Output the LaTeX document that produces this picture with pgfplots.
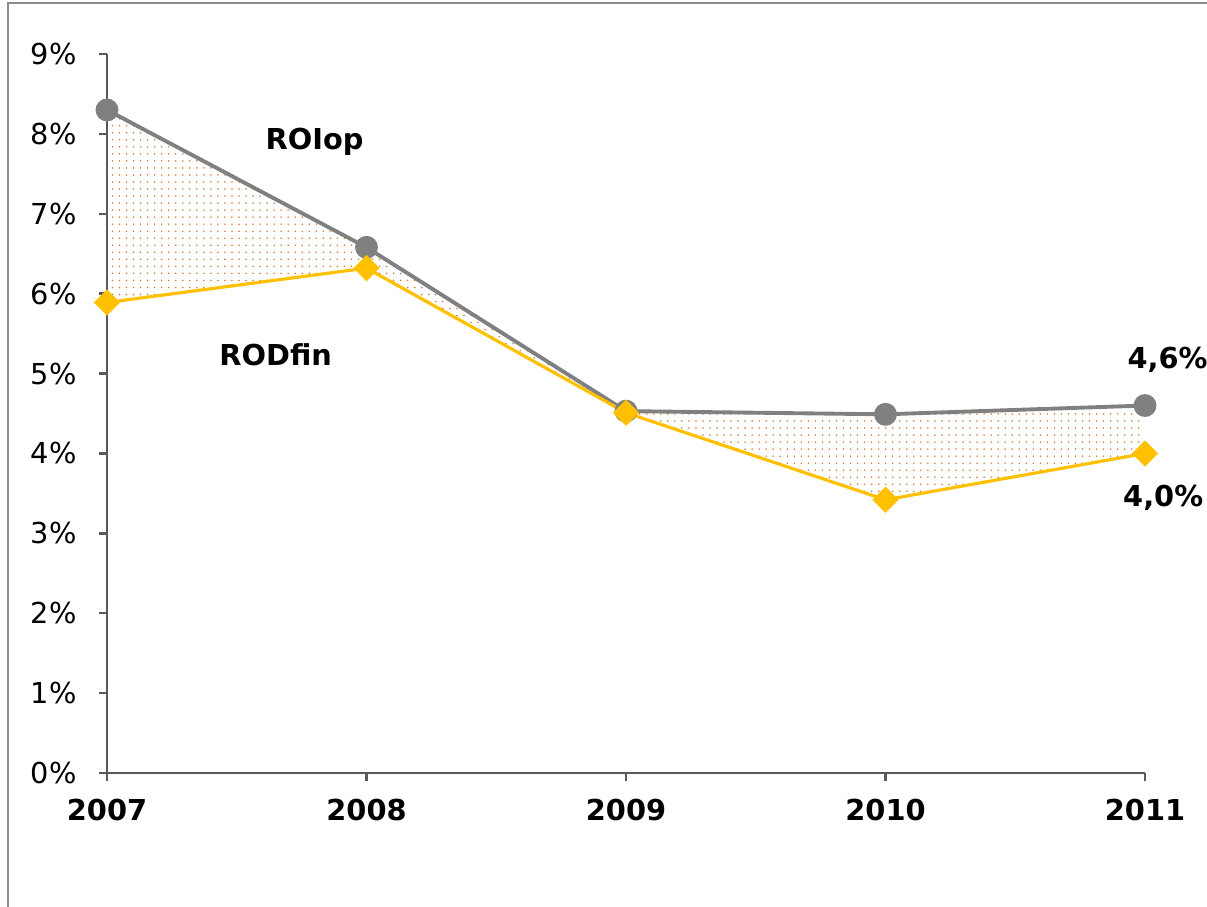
\documentclass[border=0pt]{standalone}
\usepackage{fontspec}
\setmainfont{DejaVu Sans}
\usepackage{pgfplots}
\pgfplotsset{compat=1.18}
\usepgfplotslibrary{fillbetween}
\usetikzlibrary{patterns}

\definecolor{roigray}{RGB}{128,128,128}
\definecolor{rodyellow}{RGB}{255,192,0}
\definecolor{dotorange}{RGB}{215,120,50}
\definecolor{framegray}{RGB}{140,140,140}
\definecolor{axisgray}{RGB}{90,90,90}

% fine dot raster for the spread between the two ratios
\pgfdeclarepatternformonly{finedots}{\pgfqpoint{-0.5pt}{-0.5pt}}{\pgfqpoint{2.5pt}{2.5pt}}{\pgfqpoint{2pt}{2pt}}{%
  \pgfpathcircle{\pgfqpoint{0pt}{0pt}}{0.25pt}\pgfusepath{fill}}

\begin{document}
\begin{tikzpicture}
\begin{axis}[
  at={(0,0)}, anchor=south west,
  scale only axis,
  width=10.38cm, height=7.19cm,
  xmin=2007, xmax=2011, ymin=0, ymax=9,
  axis lines*=left,
  axis line style={axisgray, line width=0.7pt, -},
  tick style={axisgray, line width=0.7pt},
  tick align=outside,
  major tick length=0.08cm,
  xtick={2007,2008,2009,2010,2011},
  xticklabels={\textbf{2007},\textbf{2008},\textbf{2009},\textbf{2010},\textbf{2011}},
  ytick={0,1,2,3,4,5,6,7,8,9},
  yticklabels={0\%,1\%,2\%,3\%,4\%,5\%,6\%,7\%,8\%,9\%},
  every tick label/.append style={font=\fontsize{8.2}{9.8}\selectfont, text=black},
  xticklabel style={yshift=-0.06cm},
  yticklabel style={xshift=-0.1cm},
  clip=false,
]
\addplot[name path=roi, draw=none, forget plot] coordinates {
  (2007,8.30) (2008,6.58) (2009,4.53) (2010,4.49) (2011,4.6)};
\addplot[name path=rod, draw=none, forget plot] coordinates {
  (2007,5.89) (2008,6.32) (2009,4.51) (2010,3.42) (2011,4.0)};
\addplot[pattern=finedots, pattern color=dotorange, draw=none]
  fill between[of=roi and rod];

% ROIop
\addplot[roigray, line width=1.1pt, mark=*, mark size=2.7pt,
  mark options={fill=roigray, draw=roigray}] coordinates {
  (2007,8.30) (2008,6.58) (2009,4.53) (2010,4.49) (2011,4.6)};
% RODfin
\addplot[rodyellow, line width=0.9pt, mark=diamond*, mark size=3.1pt,
  mark options={fill=rodyellow, draw=rodyellow, xscale=1.33}] coordinates {
  (2007,5.89) (2008,6.32) (2009,4.51) (2010,3.42) (2011,4.0)};

\node[font=\fontsize{8.2}{9.8}\selectfont\bfseries] at (axis cs:2007.80,7.90) {ROIop};
\node[font=\fontsize{8.2}{9.8}\selectfont\bfseries] at (axis cs:2007.65,5.23) {RODfin};
\node[font=\fontsize{8.2}{9.8}\selectfont\bfseries, anchor=west, inner sep=0pt] at (axis cs:2010.93,5.17) {4,6\%};
\node[font=\fontsize{8.2}{9.8}\selectfont\bfseries] at (axis cs:2011.07,3.45) {4,0\%};
\end{axis}
% chart frame (left and top edges) and page extent
\draw[framegray, line width=0.6pt] (-0.99cm,-1.40cm) -- (-0.99cm,7.70cm) -- (11.10cm,7.70cm);
\pgfresetboundingbox
\path[use as bounding box] (-1.07cm,-1.33cm) rectangle (11.00cm,7.73cm);
\end{tikzpicture}
\end{document}
